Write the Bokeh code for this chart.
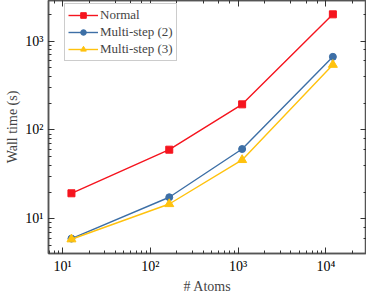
from bokeh.plotting import figure
from bokeh.models import LogAxis, CustomJSTickFormatter, Legend, LegendItem, Range1d
from bokeh.embed import file_html
from bokeh.resources import INLINE

atoms = [12.6, 164, 1110, 12000]
normal = [19.4, 60, 194, 1995]
multi2 = [6.0, 17.5, 61, 664]
multi3 = [5.9, 14.7, 46, 541]

FONT = "Liberation Serif"
RED = "#f5141e"
BLUE = "#3d6fa6"
YEL = "#ffc20e"

sup = CustomJSTickFormatter(code="""
const s = {'0':'\u2070','1':'\u00b9','2':'\u00b2','3':'\u00b3','4':'\u2074','5':'\u2075','6':'\u2076','7':'\u2077','8':'\u2078','9':'\u2079','-':'\u207b'};
const e = Math.round(Math.log10(tick));
if (Math.abs(Math.log10(tick) - e) > 1e-6) return '';
return '10' + String(e).split('').map(c => s[c]).join('');
""")
blank = CustomJSTickFormatter(code="return '';")

p = figure(width=366, height=296, x_axis_type="log", y_axis_type="log",
           x_range=Range1d(6.9, 29000), y_range=Range1d(4.08, 2855),
           output_backend="svg", toolbar_location=None,
           min_border_left=48, min_border_right=0, min_border_top=0, min_border_bottom=41)
p.grid.visible = False
p.outline_line_color = "#555555"
p.outline_line_width = 1.5

def style(ax, labels=True):
    ax.major_tick_in = 6
    ax.major_tick_out = 0
    ax.minor_tick_in = 3
    ax.minor_tick_out = 0
    ax.axis_line_color = "#555555"
    ax.axis_line_width = 1.5
    ax.major_tick_line_color = "#333333"
    ax.minor_tick_line_color = "#333333"
    if labels:
        ax.formatter = sup
        ax.major_label_text_font = FONT
        ax.major_label_text_font_size = "14px"
        ax.major_label_text_color = "black"
        ax.major_label_standoff = 5
    else:
        ax.formatter = blank
        ax.major_label_text_font_size = "1px"
        ax.major_label_text_color = None
        ax.major_label_standoff = 0
        ax.axis_label_standoff = 0

for ax in p.xaxis + p.yaxis:
    style(ax)

p.xaxis.axis_label = "# Atoms"
p.yaxis.axis_label = "Wall time (s)"
for ax in p.xaxis + p.yaxis:
    ax.axis_label_text_font = FONT
    ax.axis_label_text_font_size = "14px"
    ax.axis_label_text_font_style = "normal"
    ax.axis_label_standoff = 2

top = LogAxis()
right = LogAxis()
style(top, labels=False)
style(right, labels=False)
p.add_layout(top, "above")
p.add_layout(right, "right")

r1 = p.line(atoms, normal, line_color=RED, line_width=1.4)
s1 = p.scatter(atoms, normal, marker="square", size=7, color=RED)
r2 = p.line(atoms, multi2, line_color=BLUE, line_width=1.4)
s2 = p.scatter(atoms, multi2, marker="circle", size=7, color=BLUE)
r3 = p.line(atoms, multi3, line_color=YEL, line_width=1.4)
s3 = p.scatter(atoms, multi3, marker="triangle", size=9, color=YEL)

legend = Legend(items=[
    LegendItem(label="Normal", renderers=[r1, s1]),
    LegendItem(label="Multi-step (2)", renderers=[r2, s2]),
    LegendItem(label="Multi-step (3)", renderers=[r3, s3]),
], location="top_left")
legend.label_text_font = FONT
legend.label_text_font_size = "13px"
legend.label_standoff = 2
legend.glyph_width = 30
legend.glyph_height = 14
legend.spacing = 1
legend.padding = 3
legend.margin = 0
legend.location = (16, 192)
legend.border_line_color = "#999999"
legend.border_line_width = 1
legend.background_fill_alpha = 1
legend.label_height = 14
p.add_layout(legend)

open("out.html", "w").write(file_html(p, INLINE))
